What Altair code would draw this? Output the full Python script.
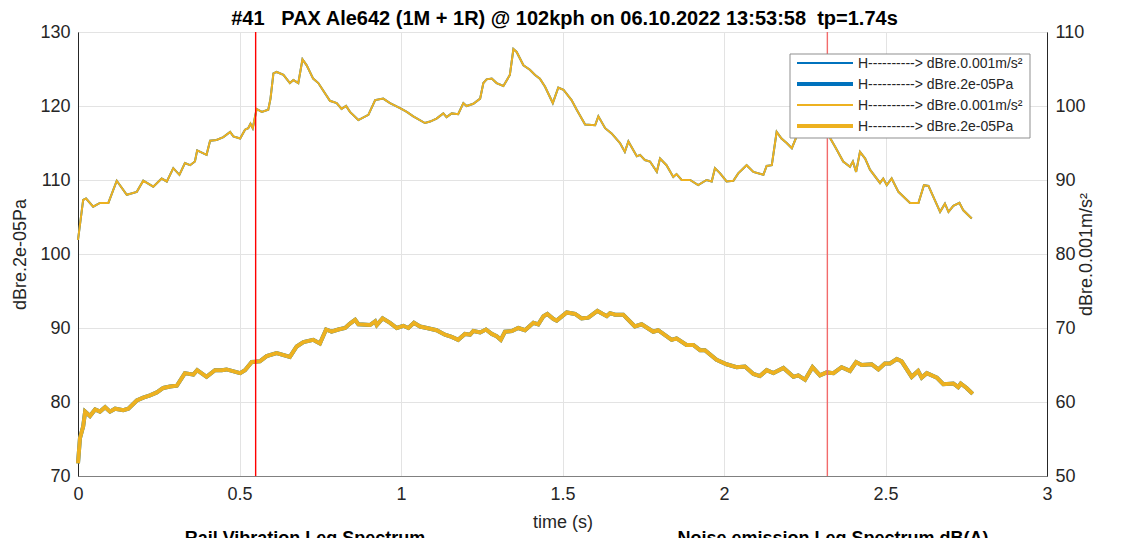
import altair as alt
import pandas as pd

# ---------------- data ----------------
NB = "\u00a0"
TITLE = "#41" + NB * 3 + "PAX Ale642 (1M + 1R) @ 102kph on 06.10.2022 13:53:58" + NB * 2 + "tp=1.74s"

# Rail vibration level, right axis (dBre.0.001m/s²)
t_vib = [0.0, 0.016, 0.025, 0.047, 0.068, 0.094, 0.12, 0.151, 0.182, 0.202, 0.233, 0.259, 0.275,
         0.295, 0.314, 0.331, 0.347, 0.362, 0.369, 0.398, 0.409, 0.429, 0.45, 0.471, 0.481, 0.502,
         0.517, 0.527, 0.534, 0.541, 0.553, 0.569, 0.589, 0.596, 0.605, 0.615, 0.636, 0.656, 0.667,
         0.682, 0.695, 0.708, 0.728, 0.744, 0.78, 0.801, 0.816, 0.83, 0.842, 0.868, 0.899, 0.92,
         0.945, 0.966, 0.997, 1.018, 1.038, 1.074, 1.09, 1.11, 1.131, 1.141, 1.157, 1.177, 1.193,
         1.203, 1.224, 1.245, 1.255, 1.265, 1.281, 1.296, 1.317, 1.337, 1.348, 1.358, 1.379, 1.399,
         1.415, 1.43, 1.446, 1.47, 1.487, 1.503, 1.528, 1.544, 1.57, 1.601, 1.611, 1.632, 1.652,
         1.678, 1.693, 1.704, 1.73, 1.74, 1.755, 1.771, 1.792, 1.802, 1.822, 1.843, 1.853, 1.869,
         1.895, 1.92, 1.946, 1.962, 1.972, 1.988, 2.008, 2.029, 2.044, 2.07, 2.091, 2.122, 2.132,
         2.148, 2.163, 2.178, 2.194, 2.21, 2.226, 2.25, 2.28, 2.31, 2.328, 2.344, 2.369, 2.39, 2.399,
         2.409, 2.421, 2.437, 2.452, 2.483, 2.493, 2.504, 2.519, 2.54, 2.576, 2.602, 2.619, 2.633,
         2.669, 2.684, 2.695, 2.71, 2.729, 2.741, 2.767]
vib = [81.9, 87.3, 87.5, 86.4, 86.9, 86.9, 89.9, 88.0, 88.4, 89.9, 89.1, 90.2, 89.8,
       91.6, 90.7, 92.3, 92.0, 92.5, 94.0, 93.4, 95.3, 95.4, 95.8, 96.5, 95.9, 95.6,
       96.8, 97.0, 97.6, 97.0, 99.6, 99.2, 99.5, 101.0, 104.4, 104.6, 104.2, 103.1, 103.5,
       103.1, 106.3, 105.5, 103.7, 103.1, 100.7, 100.4, 99.6, 100.0, 99.2, 98.1, 98.8, 100.8,
       101.0, 100.4, 99.7, 99.2, 98.6, 97.7, 97.9, 98.3, 99.0, 98.5, 99.0, 98.9, 100.4,
       100.0, 100.3, 101.0, 103.1, 103.6, 103.7, 103.1, 102.7, 104.2, 107.7, 107.3, 105.5, 104.9,
       104.2, 103.7, 102.6, 100.4, 102.5, 102.2, 100.8, 99.5, 97.5, 97.4, 98.6, 97.0, 96.3,
       95.0, 93.8, 95.2, 93.2, 93.4, 92.7, 92.5, 91.1, 92.9, 92.0, 90.4, 90.8, 90.0,
       90.0, 89.3, 90.0, 89.8, 91.6, 90.9, 89.8, 89.9, 90.9, 92.0, 91.1, 90.7, 91.9,
       92.0, 96.5, 95.6, 95.0, 94.3, 96.0, 97.5, 98.5, 97.5, 95.7, 94.5, 92.5, 91.8, 92.5,
       91.1, 93.8, 92.9, 91.4, 89.6, 90.2, 89.3, 90.2, 88.4, 86.9, 86.9, 89.3, 89.2,
       85.7, 86.8, 85.7, 86.5, 86.9, 85.9, 84.8]

# Noise emission level, left axis (dBre.2e-05Pa)
t_noise = [0.0, 0.006, 0.016, 0.022, 0.037, 0.053, 0.068, 0.084, 0.099, 0.115, 0.14, 0.156, 0.182,
           0.202, 0.223, 0.244, 0.264, 0.285, 0.306, 0.331, 0.357, 0.369, 0.398, 0.424, 0.445, 0.46,
           0.502, 0.517, 0.538, 0.563, 0.584, 0.615, 0.656, 0.677, 0.698, 0.728, 0.749, 0.768, 0.785,
           0.806, 0.827, 0.842, 0.858, 0.868, 0.904, 0.92, 0.925, 0.943, 0.966, 0.987, 1.007, 1.023,
           1.04, 1.059, 1.08, 1.11, 1.136, 1.157, 1.177, 1.198, 1.214, 1.224, 1.245, 1.263, 1.281,
           1.296, 1.309, 1.322, 1.343, 1.363, 1.384, 1.41, 1.425, 1.441, 1.453, 1.472, 1.482, 1.513,
           1.539, 1.559, 1.58, 1.608, 1.637, 1.647, 1.663, 1.688, 1.724, 1.745, 1.781, 1.796, 1.838,
           1.853, 1.884, 1.905, 1.926, 1.941, 1.977, 2.008, 2.039, 2.065, 2.091, 2.111, 2.132, 2.153,
           2.184, 2.215, 2.23, 2.251, 2.274, 2.297, 2.318, 2.339, 2.364, 2.39, 2.409, 2.426, 2.457,
           2.478, 2.498, 2.514, 2.535, 2.55, 2.581, 2.601, 2.612, 2.628, 2.659, 2.679, 2.71, 2.725,
           2.733, 2.751, 2.77]
noise = [71.7, 75.1, 76.7, 78.7, 78.1, 79.0, 78.7, 79.3, 78.7, 79.1, 78.9, 79.1, 80.2,
         80.6, 80.9, 81.3, 81.9, 82.1, 82.2, 83.9, 83.7, 84.3, 83.4, 84.3, 84.3, 84.4,
         83.9, 84.3, 85.4, 85.5, 86.2, 86.6, 86.1, 87.5, 88.1, 88.4, 87.9, 89.8, 89.5,
         89.8, 90.0, 90.6, 91.1, 90.5, 90.4, 90.9, 90.4, 91.3, 90.7, 90.0, 90.3, 90.0,
         90.7, 90.2, 90.0, 89.7, 89.1, 88.8, 88.4, 89.2, 89.1, 89.6, 89.4, 89.8, 89.2,
         88.9, 88.4, 89.5, 89.6, 90.0, 89.7, 90.7, 90.5, 91.6, 91.9, 91.2, 91.0, 92.1,
         91.9, 91.3, 91.4, 92.3, 91.6, 92.0, 91.8, 91.8, 90.2, 90.5, 89.5, 89.7, 88.4,
         88.6, 87.7, 87.7, 87.0, 87.0, 85.7, 85.1, 84.7, 84.8, 83.8, 83.5, 84.3, 83.9,
         84.6, 83.4, 83.6, 83.0, 84.7, 83.6, 84.0, 83.9, 84.7, 84.2, 85.4, 85.0, 85.1,
         84.4, 85.2, 85.2, 85.8, 85.5, 83.4, 84.2, 83.3, 83.9, 83.3, 82.4, 82.5, 82.0,
         82.5, 81.9, 81.1]

marker_times = [0.55, 2.32]
marker_colors = ["#FF0000", "#F26B6B"]
x_ticks = [0, 0.5, 1, 1.5, 2, 2.5, 3]
left_ticks = [70, 80, 90, 100, 110, 120, 130]
right_ticks = [50, 60, 70, 80, 90, 100, 110]
legend_labels = ["H----------> dBre.0.001m/s²", "H----------> dBre.2e-05Pa",
                 "H----------> dBre.0.001m/s²", "H----------> dBre.2e-05Pa"]
legend_colors = ["#0072BD", "#0072BD", "#EDB120", "#EDB120"]
legend_widths = [2, 4, 2, 4]
bottom_titles = ["Rail Vibration Leq Spectrum", "Noise emission Leq Spectrum dB(A)"]

assert len(t_vib) == len(vib) and len(t_noise) == len(noise)

# ---------------- chart ----------------
FONT = "Liberation Sans"
TXT = "#262626"
W, H = 969, 444

df_vib = pd.DataFrame({"t": t_vib, "v": vib})
df_noise = pd.DataFrame({"t": t_noise, "v": noise})
df_mark = pd.DataFrame({"t": marker_times, "c": marker_colors})

xenc = alt.X("t:Q", title="time (s)",
             scale=alt.Scale(domain=[0, 3], nice=False),
             axis=alt.Axis(values=x_ticks, format="~g", grid=True, tickSize=0, labelFlush=False,
                           labelPadding=9, titlePadding=10, domainColor="#808080"))

y_left = alt.Y("v:Q", title="dBre.2e-05Pa",
               scale=alt.Scale(domain=[70, 130], nice=False),
               axis=alt.Axis(orient="left", values=left_ticks, grid=True, tickSize=0,
                             labelFlush=False, labelPadding=8, titlePadding=10,
                             domainColor=TXT))
y_right = alt.Y("v:Q", title="dBre.0.001m/s²",
                scale=alt.Scale(domain=[50, 110], nice=False),
                axis=alt.Axis(orient="right", values=right_ticks, grid=False, tickSize=0,
                              labelFlush=False, labelPadding=8, titlePadding=10,
                              titleAngle=270, titleBaseline="bottom", domainColor=TXT))

noise_blue = alt.Chart(df_noise).mark_line(color="#0072BD", strokeWidth=4).encode(x=xenc, y=y_left)
noise_yel = alt.Chart(df_noise).mark_line(color="#EDB120", strokeWidth=4).encode(x=xenc, y=y_left)
left = alt.layer(noise_blue, noise_yel)

vib_blue = alt.Chart(df_vib).mark_line(color="#0072BD", strokeWidth=2).encode(x=xenc, y=y_right)
vib_yel = alt.Chart(df_vib).mark_line(color="#EDB120", strokeWidth=2).encode(x=xenc, y=y_right)
right = alt.layer(vib_blue, vib_yel)

markers = alt.Chart(df_mark).mark_rule(strokeWidth=1.4).encode(
    x=alt.X("t:Q"), color=alt.Color("c:N", scale=None))

# legend (drawn by hand, MATLAB style)
LX0, LX1, LY0, LY1 = 712, 952, 22, 106
leg_layers = [
    alt.Chart(df_mark.head(1)).mark_rect(fill="white", stroke="#8f8f8f", strokeWidth=1).encode(
        x=alt.value(LX0), x2=alt.value(LX1), y=alt.value(LY0), y2=alt.value(LY1))
]
for i, (lab, col, wd) in enumerate(zip(legend_labels, legend_colors, legend_widths)):
    yy = 31 + 21 * i
    leg_layers.append(
        alt.Chart(df_mark.head(1)).mark_rule(color=col, strokeWidth=wd).encode(
            x=alt.value(719), x2=alt.value(775), y=alt.value(yy), y2=alt.value(yy)))
    leg_layers.append(
        alt.Chart(pd.DataFrame({"lab": [lab]})).mark_text(
            align="left", baseline="middle", font=FONT, fontSize=14, color=TXT).encode(
            x=alt.value(780), y=alt.value(yy + 1), text="lab:N"))

# title and the (cut-off) captions below, as text marks
text_layers = [
    alt.Chart(pd.DataFrame({"lab": [TITLE]})).mark_text(
        align="center", baseline="alphabetic", font=FONT, fontSize=20,
        fontWeight="bold", color="#000000").encode(
        x=alt.value(W / 2 + 2), y=alt.value(-7), text="lab:N")
]
for lab, cx in zip(bottom_titles, [227, 755]):
    text_layers.append(
        alt.Chart(pd.DataFrame({"lab": [lab]})).mark_text(
            align="center", baseline="alphabetic", font=FONT, fontSize=18,
            fontWeight="bold", color="#000000").encode(
            x=alt.value(cx), y=alt.value(512), text="lab:N"))

chart = alt.layer(left, right, markers, *leg_layers, *text_layers).resolve_scale(
    y="independent"
).properties(
    width=W, height=H,
    autosize=alt.AutoSizeParams(type="none"),
    padding={"left": 70, "top": 24, "right": 69, "bottom": 62},
).configure_view(
    stroke=TXT, strokeWidth=1
).configure_axis(
    labelFont=FONT, labelFontSize=18, labelColor=TXT,
    titleFont=FONT, titleFontSize=18, titleColor=TXT, titleFontWeight="normal",
    gridColor="#e3e3e3", gridWidth=1
)

chart.save("out.html", embed_options={"renderer": "svg", "actions": False})
